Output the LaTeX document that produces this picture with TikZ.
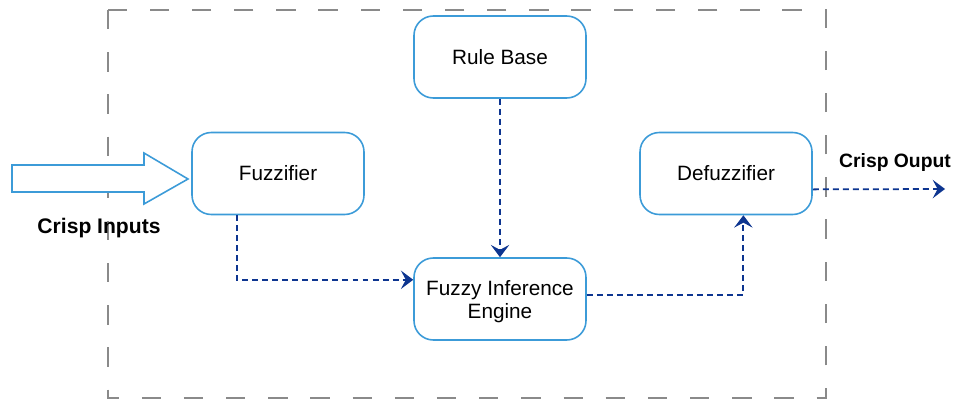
\documentclass[tikz,border=0pt]{standalone}
\usepackage{fontspec}
\setmainfont{Liberation Sans}
\usetikzlibrary{arrows.meta,calc,positioning}

\definecolor{boxblue}{HTML}{3C9BD8}
\definecolor{flownavy}{HTML}{0D3590}
\definecolor{framegray}{HTML}{8A8A8A}

\tikzset{
	block/.style={draw=boxblue,line width=0.9pt,rounded corners=11pt,minimum width=3.44cm,minimum height=1.64cm,align=center,font=\fontsize{11.8}{13.2}\selectfont},
	flow/.style={draw=flownavy,line width=1pt,dashed,dash pattern=on 3.4pt off 2.3pt,-{Stealth[length=7pt,width=10.5pt,inset=2.8pt]}},
	label/.style={font=\bfseries\fontsize{11}{13}\selectfont}
}

\begin{document}
\begin{tikzpicture}
	\useasboundingbox (0,0) rectangle (19.06,8.02);
	\draw[framegray,line width=0.8pt,dash pattern=on 11pt off 13pt] (2.16,7.82) rectangle (16.52,0.06);
	
	\node[block] (rule) at (10.0,6.88) {Rule Base};
	\node[block] (fuzz) at (5.56,4.55) {Fuzzifier};
	\node[block] (defuzz) at (14.52,4.55) {Defuzzifier};
	\node[block,text height=25pt] (engine) at (10.0,2.04) {Fuzzy Inference\\Engine};
	
	% hollow input arrow
	\coordinate (tip) at (3.76,4.44);
	\draw[boxblue,line width=0.9pt,fill=white] (0.24,4.72) -- (2.88,4.72) -- (2.88,4.96) -- (tip) -- (2.88,3.94) -- (2.88,4.18) -- (0.24,4.18) -- cycle;
	\node[label,font=\bfseries\fontsize{12}{14}\selectfont] (inlab) at (1.98,3.46) {Crisp Inputs};
	
	% connectors
	\draw[flow] ($(fuzz.south west)!0.262!(fuzz.south east)$) |- ($(engine.north west)!0.27!(engine.south west)$);
	\draw[flow] (rule.south) -- (engine.north);
	\draw[flow] ($(engine.north east)!0.45!(engine.south east)$) -| ($(defuzz.south west)!0.6!(defuzz.south east)$);
	\coordinate (out) at (18.9,4.24);
	\draw[flow] ($(defuzz.north east)!0.69!(defuzz.south east)$) -- (out);
	\node[label] (outlab) at (17.9,4.76) {Crisp Ouput};
\end{tikzpicture}
\end{document}
